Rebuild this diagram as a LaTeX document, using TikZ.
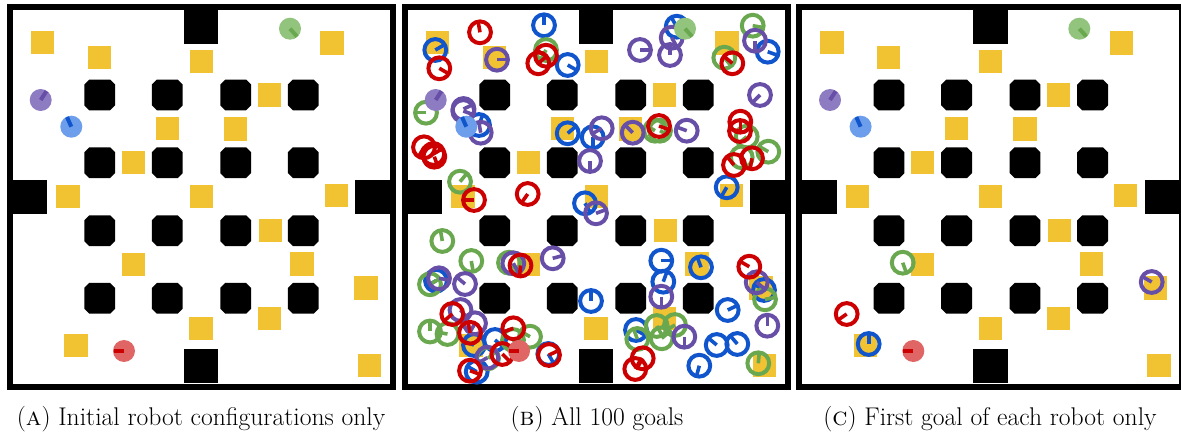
\documentclass[tikz,border=0pt]{standalone}
\usepackage{xcolor}

\definecolor{goalyellow}{HTML}{F1C232}
\definecolor{rred}{HTML}{CC0000}
\definecolor{rblue}{HTML}{1155CC}
\definecolor{rgreen}{HTML}{6AA84F}
\definecolor{rpurple}{HTML}{674EA7}
\definecolor{bodyrred}{HTML}{E06666}
\definecolor{bodyrblue}{HTML}{6D9EEB}
\definecolor{bodyrgreen}{HTML}{93C47D}
\definecolor{bodyrpurple}{HTML}{8E7CC3}

% one arena: #1 is the panel name, #2 the shift in x
\newcommand{\arena}[2]{
    \begin{scope}[shift={(#2,0)}]
    \node[wallframe] (#1frame) at (201.5,197) {};
    \node[gatebox] (#1gateN) at (201.3,27) {};
    \node[gatebox] (#1gateS) at (201.3,366.3) {};
    \node[gatebox] (#1gateW) at (30.3,196.9) {};
    \node[gatebox] (#1gateE) at (372.5,196.9) {};
    \foreach \y [count=\r] in {95,162.7,230.7,298.3}
        \foreach \x [count=\c] in {99.7,167.3,235.7,303.3}
            \pic (#1p\r\c) at (\x,\y) {pillar};
    \foreach \x/\y [count=\n] in {
        42.7/42.3, 99.3/57.3, 201.3/61.7, 332/43, 269.3/95, 167.3/128.7,
        235.7/129, 133.3/162.7, 68/196.7, 201.3/196.7, 336.3/195.7,
        270.3/230.7, 133.3/264.3, 302/264, 366/288, 269.3/318.3,
        201/328.3, 76/345.7, 369.7/365.7}
        \node[goalsq] (#1sq\n) at (\x,\y) {};
    \end{scope}
}

% the four robots, drawn over the goals
\newcommand{\robots}[2]{
    \begin{scope}[shift={(#2,0)}]
    \foreach \col/\x/\y/\ang in {
        rgreen/290/28.7/-48, rpurple/40.7/100/57, rblue/71.3/126.7/114, rred/124/351/180}{
        \node[robot, fill=body\col] (#1\col) at (\x,\y) {};
        \draw[robottick, \col] (#1\col.center) -- ++(-\ang:10.5);
    }
    \end{scope}
}

\begin{document}
\begin{tikzpicture}[
    x=1pt,
    y=-1pt,
    wallframe/.style={
        rectangle,
        draw=black,
        line width=6pt,
        fill=white,
        inner sep=0pt,
        minimum width=383pt,
        minimum height=380pt
    },
    gatebox/.style={
        rectangle,
        fill=black,
        inner sep=0pt,
        minimum width=34.3pt,
        minimum height=34pt
    },
    pillar/.pic={
        \fill[black] (-10.4,-15.4) -- (10.4,-15.4) -- (15.4,-10.4) -- (15.4,10.4)
            -- (10.4,15.4) -- (-10.4,15.4) -- (-15.4,10.4) -- (-15.4,-10.4) -- cycle;
    },
    goalsq/.style={
        rectangle,
        fill=goalyellow,
        inner sep=0pt,
        minimum size=23.3pt
    },
    goalring/.style={
        circle,
        line width=4pt,
        inner sep=0pt,
        minimum size=21.8pt
    },
    ringtick/.style={
        line width=3.6pt
    },
    robot/.style={
        circle,
        inner sep=0pt,
        minimum size=22pt
    },
    robottick/.style={
        line width=4pt
    },
    caption/.style={
        font=\fontsize{25.6}{29}\selectfont,
        anchor=base
    }
]
\useasboundingbox (0,0) rectangle (1181,435);

% =========================================================
% Panels
% =========================================================
\arena{a}{0}
\arena{b}{395}
\arena{c}{789.3}

% =========================================================
% All goals, middle panel
% =========================================================
\foreach \col/\x/\y/\ang [count=\n] in {
    rblue/544/25.3/90, rblue/435.3/50/30, rblue/567.7/65/-30, rblue/479/125/70,
    rblue/567.7/133.3/40, rblue/592.7/137.3/-90, rblue/676.7/26.7/120, rblue/767.7/51.7/-20,
    rblue/726.7/187.3/-120, rblue/585/203.3/-60, rblue/436/280.7/-150, rblue/591/301/90,
    rblue/474/345/160, rblue/495/340/-40, rblue/548.3/354/-60, rblue/476.7/371.7/150,
    rblue/661.3/260.7/0, rblue/701/267.3/110, rblue/663.3/281.7/70, rblue/764/290/150,
    rblue/727.7/310/25, rblue/636/330/-30, rblue/716.7/345/140, rblue/737.3/344/130,
    rblue/699.3/365.7/-105,
    rgreen/546/50/-120, rgreen/426/112.7/180, rgreen/460/181.7/50, rgreen/752.7/25.7/-10,
    rgreen/724.3/57.7/-50, rgreen/655/130.7/150, rgreen/660/130.7/-30, rgreen/746.7/136.7/-140,
    rgreen/768.3/151.7/150, rgreen/741.7/157.3/-60, rgreen/442.3/241/100, rgreen/471.3/261/-80,
    rgreen/509/262.7/-45, rgreen/430/284.3/30, rgreen/430/331.5/90, rgreen/447.5/334/170,
    rgreen/530/336.7/150, rgreen/513/340/-30, rgreen/488/358.3/40, rgreen/765/299.3/10,
    rgreen/637.3/339/110, rgreen/656.7/326/-60, rgreen/675/325/-150, rgreen/661.7/338.3/40,
    rgreen/758.3/363.3/85,
    rpurple/497/59.7/0, rpurple/463.3/111/-20, rpurple/463.5/109/25, rpurple/480.7/132.7/100,
    rpurple/601.7/128.3/-150, rpurple/590/161/-90, rpurple/640/50/0, rpurple/671.7/37.7/-60,
    rpurple/670/55/90, rpurple/755/40.7/-90, rpurple/760/95/-135, rpurple/632.7/132.7/135,
    rpurple/686.7/130.7/160, rpurple/513.3/263.3/-60, rpurple/552.7/258.3/15, rpurple/439/278.3/-10,
    rpurple/465/284/140, rpurple/460.5/310/-50, rpurple/475/323.3/-120, rpurple/487.3/357.7/-150,
    rpurple/596/213.3/20, rpurple/661.3/296.7/-90, rpurple/756.7/282.3/-40, rpurple/767.3/325.7/90,
    rpurple/684.3/336.7/-90,
    rred/480/32.3/100, rred/439.3/68.3/-30, rred/546/55.7/150, rred/538.3/63.3/40,
    rred/424/147.3/-120, rred/433.3/154/30, rred/434.3/156.7/-70, rred/527.7/194/-125,
    rred/474/200/180, rred/732.3/63.3/140, rred/659/126/-20, rred/740.3/121.7/-90,
    rred/740/131/170, rred/734/165/130, rred/752/158.3/-100, rred/520.5/265.5/-95,
    rred/452.3/314/-140, rred/470/332.8/100, rred/513.3/328.3/-160, rred/502.3/354/-45,
    rred/549/355/25, rred/470/370.7/-20, rred/749.3/266.7/150, rred/642.7/358.3/-120,
    rred/635.3/369/60}{
    \node[goalring, draw=\col] (goal\n) at (\x,\y) {};
    \draw[ringtick, \col] (goal\n.center) -- ++(-\ang:10.5);
}

% =========================================================
% First goals, right panel
% =========================================================
\foreach \col/\x/\y/\ang [count=\n] in {
    rgreen/902.7/262.7/-70, rred/846.7/314/-145, rblue/868.7/344/90, rpurple/1151.7/282/150}{
    \node[goalring, draw=\col] (first\n) at (\x,\y) {};
    \draw[ringtick, \col] (first\n.center) -- ++(-\ang:10.5);
}

% =========================================================
% Robots
% =========================================================
\robots{ra}{0}
\robots{rb}{395}
\robots{rc}{789.3}

% =========================================================
% Captions
% =========================================================
\node[caption] (capa) at (201,426) {(\textsc{a}) Initial robot configurations only};
\node[caption] (capb) at (597,426) {(\textsc{b}) All 100 goals};
\node[caption] (capc) at (990,426) {(\textsc{c}) First goal of each robot only};

\end{tikzpicture}
\end{document}
